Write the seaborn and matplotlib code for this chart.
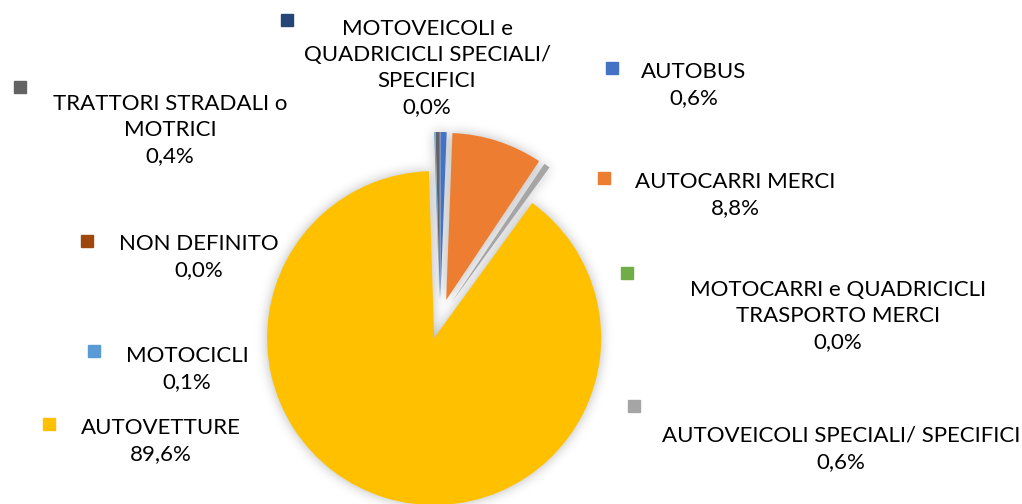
import numpy as np
import seaborn as sns
import matplotlib.pyplot as plt
from matplotlib.path import Path
from matplotlib.patches import PathPatch

# shares of the fleet (%), clockwise from 12 o'clock
categories = ['AUTOBUS', 'AUTOCARRI MERCI', 'AUTOVEICOLI SPECIALI/ SPECIFICI', 'AUTOVETTURE',
              'MOTOCICLI', 'MOTOCARRI e QUADRICICLI TRASPORTO MERCI',
              'MOTOVEICOLI e QUADRICICLI SPECIALI/ SPECIFICI', 'NON DEFINITO',
              'TRATTORI STRADALI o MOTRICI']
shares = [0.6, 8.8, 0.6, 89.6, 0.1, 0.0, 0.0, 0.0, 0.4]
label_text = ['AUTOBUS', 'AUTOCARRI MERCI', 'AUTOVEICOLI SPECIALI/ SPECIFICI', 'AUTOVETTURE',
              'MOTOCICLI', 'MOTOCARRI e QUADRICICLI\nTRASPORTO MERCI',
              'MOTOVEICOLI e\nQUADRICICLI SPECIALI/\nSPECIFICI', 'NON DEFINITO',
              'TRATTORI STRADALI o\nMOTRICI']
colors = ['#4472C4', '#ED7D31', '#A5A5A5', '#FFC000', '#5B9BD5', '#70AD47',
          '#264478', '#9E480E', '#636363']

# layout (pixel coords, origin top-left)
W, H = 1022, 504
center_px = (440, 319)
radius = 167
explode_px = 20
text_pos = [(694, 85), (735, 195), (841, 449), (161, 441), (187, 369),
            (838, 316), (427, 68), (199, 257), (170, 130)]
box_pos = [(612, 68), (604, 178), (634, 406), (49, 424), (94, 351),
           (627, 273), (287, 20), (87, 241), (20, 87)]


def soft_glow(sigma=6, strength=0.28):
    # agg filter: blurred dark copy of the shape
    pad = int(3 * sigma)
    k = np.arange(-pad, pad + 1)
    kern = np.exp(-k ** 2 / (2 * sigma ** 2))
    kern /= kern.sum()

    def _filter(im, dpi):
        a = np.pad(im[:, :, 3], pad)
        a = np.apply_along_axis(lambda r: np.convolve(r, kern, mode='same'), 0, a)
        a = np.apply_along_axis(lambda r: np.convolve(r, kern, mode='same'), 1, a)
        out = np.zeros(a.shape + (4,))
        out[:, :, 3] = np.clip(a * strength, 0, 1)
        return out, -pad, -pad
    return _filter


sns.set_style("white")
plt.rcParams['font.family'] = ['Lato', 'DejaVu Sans']

fig = plt.figure(figsize=(W / 100, H / 100), dpi=100)
ax = fig.add_axes([0, 0, 1, 1])

cx, cy = center_px[0], H - center_px[1]
expl = [explode_px] * len(shares)   # pie() takes explode in data units

wedges, _ = ax.pie(shares, colors=colors, startangle=90, counterclock=False,
                   radius=radius, center=(cx, cy), explode=expl,
                   wedgeprops=dict(linewidth=0, zorder=2))

# soft shadow around the slices
outline = Path.make_compound_path(*[w.get_path() for w in wedges if w.theta2 > w.theta1])
shadow = PathPatch(outline, facecolor='black', edgecolor='none', zorder=1)
shadow.set_agg_filter(soft_glow())
ax.add_patch(shadow)

for txt, val, col, (tx, ty), (bx, by) in zip(label_text, shares, colors, text_pos, box_pos):
    pct = f"{val:.1f}%".replace('.', ',')
    ax.text(tx, H - ty, f"{txt}\n{pct}", ha='center', va='center', fontsize=16,
            linespacing=1.38, color='black', zorder=5)
    ax.plot([bx], [H - by], marker='s', ms=9, color=col, lw=0, zorder=5)

ax.set_xlim(0, W)
ax.set_ylim(0, H)
ax.set_aspect('equal')
ax.axis('off')

fig.savefig('out.png', dpi=100, facecolor='white')
